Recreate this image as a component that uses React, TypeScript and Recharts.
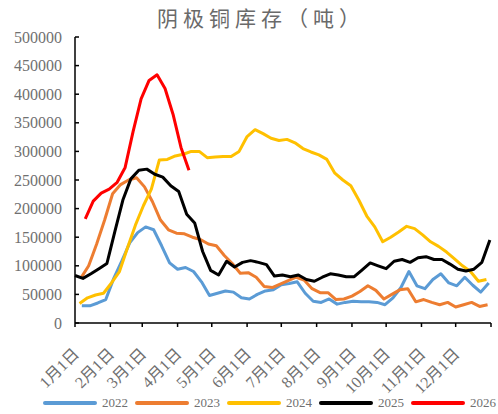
import React from 'react';
import { LineChart, Line, XAxis, YAxis } from 'recharts';

// weekly inventory, tonnes; each year starts on its own day-of-year
const START_2022 = 6;
const START_2023 = 5;
const START_2024 = 4;
const START_2025 = 0;
const START_2026 = 9;

const Y2022 = [
  30000, 30000, 35000, 41000, 78000, 108000, 140000, 158000, 168000, 163000,
  135000, 105000, 94000, 97000, 90000, 72000, 48000, 52000, 56000, 54000,
  44000, 42000, 50000, 56000, 58000, 67000, 69000, 72000, 52000, 38000,
  36000, 42000, 33000, 36000, 38000, 37000, 37000, 36000, 32000, 44000,
  62000, 90000, 65000, 60000, 76000, 86000, 70000, 65000, 80000, 66000,
  54000, 70000,
];
const Y2023 = [
  78000, 100000, 138000, 180000, 226000, 242000, 250000, 254000, 238000, 212000,
  180000, 163000, 157000, 156000, 150000, 146000, 138000, 135000, 118000, 104000,
  87000, 88000, 80000, 64000, 62000, 68000, 74000, 80000, 75000, 60000,
  53000, 53000, 41000, 42000, 47000, 55000, 65000, 57000, 42000, 50000,
  58000, 60000, 37000, 41000, 36000, 32000, 36000, 28000, 32000, 36000,
  29000, 32000,
];
const Y2024 = [
  34000, 44000, 49000, 52000, 70000, 90000, 131000, 171000, 205000, 234000,
  285000, 286000, 292000, 295000, 300000, 300000, 289000, 290000, 291000, 291000,
  300000, 326000, 338000, 331000, 323000, 319000, 321000, 315000, 305000, 299000,
  294000, 286000, 262000, 250000, 240000, 215000, 187000, 168000, 142000, 150000,
  159000, 169000, 165000, 154000, 142000, 134000, 124000, 112000, 100000, 90000,
  73000, 76000,
];
const Y2025 = [
  83000, 78000, 86000, 95000, 104000, 160000, 215000, 252000, 267000, 269000,
  260000, 255000, 240000, 230000, 190000, 175000, 125000, 92000, 84000, 108000,
  98000, 106000, 109000, 106000, 102000, 82000, 84000, 81000, 84000, 76000,
  73000, 80000, 86000, 84000, 81000, 81000, 93000, 105000, 100000, 95000,
  108000, 111000, 106000, 114000, 116000, 111000, 111000, 103000, 94000, 91000,
  94000, 106000, 145000,
];
const Y2026 = [
  182000, 213000, 227000, 234000, 246000, 272000, 335000, 392000, 424000, 434000,
  410000, 365000, 307000, 267000,
];

const MONTH_TICKS = [0, 31, 59, 90, 120, 151, 181, 212, 243, 273, 304, 334, 365];
const MONTH_LABELS = [
  '1月1日', '2月1日', '3月1日', '4月1日', '5月1日', '6月1日',
  '7月1日', '8月1日', '9月1日', '10月1日', '11月1日', '12月1日',
];
const Y_TICKS = [0, 50000, 100000, 150000, 200000, 250000, 300000, 350000, 400000, 450000, 500000];

const weekly = (start: number, values: number[]) =>
  values.map((v, i) => ({ day: start + 7 * i, v }));

const SERIES = [
  { name: '2022', color: '#5B9BD5', data: weekly(START_2022, Y2022) },
  { name: '2023', color: '#ED7D31', data: weekly(START_2023, Y2023) },
  { name: '2024', color: '#FFC000', data: weekly(START_2024, Y2024) },
  { name: '2025', color: '#000000', data: weekly(START_2025, Y2025) },
  { name: '2026', color: '#FF0000', data: weekly(START_2026, Y2026) },
];

const SERIF = '"Liberation Serif", "Times New Roman", "Noto Sans CJK SC", serif';
const GREY = '#707070';

const MonthTick = ({ x, y, payload }: any) => {
  const idx = MONTH_TICKS.indexOf(payload.value);
  const label = MONTH_LABELS[idx];
  if (!label) return null;
  const ax = x + 5;
  const ay = y + 26;
  return (
    <text
      x={ax}
      y={ay}
      transform={`rotate(-45, ${ax}, ${ay})`}
      textAnchor="end"
      fontSize={16}
      fontFamily={SERIF}
      fill={GREY}
    >
      {label}
    </text>
  );
};

export default function App() {
  return (
    <div style={{ position: 'absolute', left: 0, top: 0, width: 498, height: 414, background: '#fff' }}>
      <div
        style={{
          position: 'absolute', left: 0, top: 3, width: 522, textAlign: 'center',
          fontFamily: '"Noto Sans CJK SC", sans-serif', fontSize: 21, letterSpacing: 5,
          color: '#6a6a6a', lineHeight: '28px',
        }}
      >
        阴极铜库存（吨）
      </div>
      <LineChart width={498} height={414} margin={{ top: 37, right: 7, bottom: 31, left: 0 }}>
        <XAxis
          type="number"
          dataKey="day"
          domain={[0, 365]}
          ticks={MONTH_TICKS}
          interval={0}
          tick={<MonthTick />}
          tickSize={4}
          height={60}
          axisLine={{ stroke: '#000', strokeWidth: 1.5 }}
          tickLine={{ stroke: '#000', strokeWidth: 1.5 }}
          allowDuplicatedCategory={false}
        />
        <YAxis
          type="number"
          domain={[0, 500000]}
          ticks={Y_TICKS}
          interval={0}
          width={75}
          tickSize={-4}
          tickMargin={17}
          axisLine={{ stroke: '#000', strokeWidth: 1.5 }}
          tickLine={{ stroke: '#000', strokeWidth: 1.5 }}
          tick={{ fontSize: 16, fontFamily: SERIF, fill: GREY }}
        />
        {SERIES.map((s) => (
          <Line
            key={s.name}
            data={s.data}
            dataKey="v"
            name={s.name}
            type="linear"
            stroke={s.color}
            strokeWidth={3}
            strokeLinejoin="round"
            dot={false}
            activeDot={false}
            isAnimationActive={false}
          />
        ))}
      </LineChart>
      <div
        style={{
          position: 'absolute', left: 43, top: 393, display: 'flex', alignItems: 'center',
          fontFamily: SERIF, fontSize: 13, color: GREY, whiteSpace: 'nowrap',
        }}
      >
        {SERIES.map((s) => (
          <div key={s.name} style={{ display: 'flex', alignItems: 'center', width: 92 }}>
            <div style={{ width: 54, height: 4, borderRadius: 2, background: s.color, marginRight: 5 }} />
            <span style={{ lineHeight: '20px' }}>{s.name}</span>
          </div>
        ))}
      </div>
    </div>
  );
}
